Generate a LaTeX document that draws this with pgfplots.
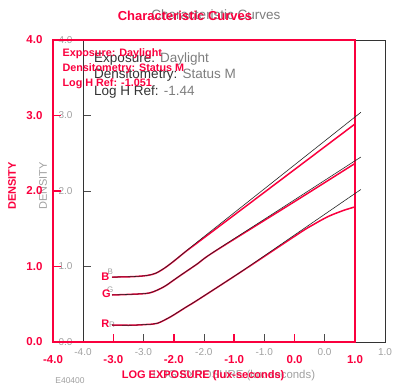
\documentclass[border=0pt]{standalone}
\usepackage{pgfplots}
\pgfplotsset{compat=1.18}
\usepackage{fontspec}
\setmainfont{Liberation Sans}
\definecolor{kred}{RGB}{250,0,62}
\definecolor{gtxt}{RGB}{125,125,125}
\definecolor{gtick}{RGB}{160,160,160}
\begin{document}
\begin{tikzpicture}
\useasboundingbox (0,0) rectangle (406pt,391pt);
% ---------------- gray (background) chart ----------------
\begin{axis}[
  at={(83pt,49pt)}, anchor=south west, scale only axis,
  width=302pt, height=302pt,
  xmin=-4, xmax=1, ymin=0, ymax=4,
  axis line style={black!80, line width=0.8pt},
  xtick={-4,-3,-2,-1,0,1}, ytick={0,1,2,3,4},
  xticklabels={-4.0,-3.0,-2.0,-1.0,0.0,1.0},
  yticklabels={0.0,1.0,2.0,3.0,4.0},
  xtick pos=bottom, ytick pos=left, tick align=inside,
  major tick length=8pt,
  tick style={black!70, line width=0.6pt},
  ticklabel style={font=\fontsize{10}{12}\selectfont, text=gtick},
  xticklabel style={yshift=-2.5pt},
  yticklabel style={xshift=-7pt},
  xlabel={LOG EXPOSURE (lux-seconds)},
  ylabel={DENSITY},
  xlabel style={at={(axis description cs:0.5,-0.1126)}, anchor=center, font=\fontsize{11.4}{13}\selectfont, text=gtick},
  ylabel style={at={(axis description cs:-0.1325,0.5166)}, anchor=center, font=\fontsize{11}{13}\selectfont, text=gtick},
  title={Characteristic Curves},
  title style={at={(axis description cs:0.4404,1.0628)}, anchor=center, yshift=0pt, font=\fontsize{13.5}{15}\selectfont, text=gtxt},
  clip=false,
]
\node[anchor=west, font=\fontsize{13.5}{15}\selectfont] at (axis description cs:0.0255,0.9387) {\textcolor{black!80}{Exposure:} \textcolor{gtxt}{Daylight}};
\node[anchor=west, font=\fontsize{13.5}{15}\selectfont] at (axis description cs:0.0255,0.8857) {\textcolor{black!80}{Densitometry:} \textcolor{gtxt}{Status M}};
\node[anchor=west, font=\fontsize{13.5}{15}\selectfont] at (axis description cs:0.0255,0.8294) {\textcolor{black!80}{Log H Ref:} \textcolor{gtxt}{-1.44}};
\node[font=\fontsize{8.5}{10}\selectfont, text=gtick] at (axis description cs:-0.043,-0.129) {E40400};
\node[font=\fontsize{8}{9}\selectfont, text=gtick] at (axis cs:-3.55,0.93) {B};
\node[font=\fontsize{8}{9}\selectfont, text=gtick] at (axis cs:-3.55,0.69) {G};
\node[font=\fontsize{8}{9}\selectfont, text=gtick] at (axis cs:-3.52,0.225) {R};
\end{axis}
% ---------------- red (foreground) chart ----------------
\begin{axis}[
  at={(53pt,49pt)}, anchor=south west, scale only axis,
  width=302pt, height=302pt,
  xmin=-4, xmax=1, ymin=0, ymax=4,
  axis line style={kred, line width=1.6pt},
  xtick={-4,-3,-2,-1,0,1}, ytick={0,1,2,3,4},
  xticklabels={-4.0,-3.0,-2.0,-1.0,0.0,1.0},
  yticklabels={0.0,1.0,2.0,3.0,4.0},
  xtick pos=bottom, ytick pos=left, tick align=inside,
  major tick length=8pt,
  tick style={kred, line width=1.6pt},
  ticklabel style={font=\fontsize{11.5}{13}\selectfont\bfseries, text=kred},
  xticklabel style={yshift=-10pt},
  yticklabel style={xshift=-7pt},
  xlabel={LOG EXPOSURE (lux-seconds)},
  ylabel={DENSITY},
  xlabel style={at={(axis description cs:0.497,-0.1126)}, anchor=center, font=\fontsize{11}{13}\selectfont\bfseries, text=kred},
  ylabel style={at={(axis description cs:-0.1358,0.5166)}, anchor=center, font=\fontsize{11}{13}\selectfont\bfseries, text=kred},
  title={Characteristic Curves},
  title style={at={(axis description cs:0.437,1.0595)}, anchor=center, yshift=0pt, font=\fontsize{13}{15}\selectfont\bfseries, text=kred},
  clip=false,
]
% B
\addplot[kred, line width=1.5pt, smooth] coordinates {(-3.02,0.86) (-2.7,0.865) (-2.45,0.88) (-2.3,0.91) (-2.15,0.98) (-2.0,1.07) (-1.8,1.2) (-1.6,1.32) (-0.5,1.983) (1.0,2.888)};
% G
\addplot[kred, line width=1.5pt, smooth] coordinates {(-3.02,0.623) (-2.7,0.632) (-2.4,0.65) (-2.17,0.728) (-2.0,0.82) (-1.88,0.887) (-1.6,1.04) (-1.33,1.196) (0,1.86) (1.0,2.365)};
% R
\addplot[kred, line width=1.5pt, smooth] coordinates {(-3.02,0.225) (-2.72,0.222) (-2.45,0.232) (-2.27,0.248) (-2.05,0.335) (-1.8,0.46) (-1.605,0.556) (-0.883,0.931) (0.083,1.444) (0.3,1.55) (0.55,1.66) (0.8,1.74) (1.0,1.79)};
\node[anchor=west, font=\fontsize{10.8}{12}\selectfont\bfseries, text=kred] at (axis description cs:0.020,0.953) {Exposure: Daylight};
\node[anchor=west, font=\fontsize{10.8}{12}\selectfont\bfseries, text=kred] at (axis description cs:0.020,0.9036) {Densitometry: Status M};
\node[anchor=west, font=\fontsize{10.8}{12}\selectfont\bfseries, text=kred] at (axis description cs:0.020,0.854) {Log H Ref: -1.051};
\node[font=\fontsize{11}{13}\selectfont\bfseries, text=kred] at (axis cs:-3.133,0.861) {B};
\node[font=\fontsize{11}{13}\selectfont\bfseries, text=kred] at (axis cs:-3.117,0.636) {G};
\node[font=\fontsize{11}{13}\selectfont\bfseries, text=kred] at (axis cs:-3.133,0.238) {R};
\end{axis}
% ---------------- gray curves overlaid (gray chart coordinates) ----------------
\begin{axis}[
  at={(83pt,49pt)}, anchor=south west, scale only axis,
  width=302pt, height=302pt,
  xmin=-4, xmax=1, ymin=0, ymax=4,
  axis lines=none, clip=false,
]
\addplot[black!85, line width=0.6pt, smooth] coordinates {(-3.52,0.86) (-3.2,0.865) (-2.95,0.88) (-2.8,0.91) (-2.65,0.98) (-2.5,1.07) (-2.3,1.2) (-2.1,1.33) (-1.0,2.027) (0.6,3.042)};
\addplot[black!85, line width=0.6pt, smooth] coordinates {(-3.52,0.623) (-3.2,0.632) (-2.9,0.65) (-2.67,0.728) (-2.5,0.82) (-2.38,0.887) (-2.1,1.04) (-1.83,1.196) (-0.5,1.882) (0.6,2.45)};
\addplot[black!85, line width=0.6pt, smooth] coordinates {(-3.52,0.225) (-3.22,0.222) (-2.95,0.232) (-2.77,0.248) (-2.55,0.335) (-2.3,0.46) (-2.105,0.556) (-1.383,0.931) (-0.5,1.416) (0.6,2.02)};
\end{axis}
\end{tikzpicture}
\end{document}
